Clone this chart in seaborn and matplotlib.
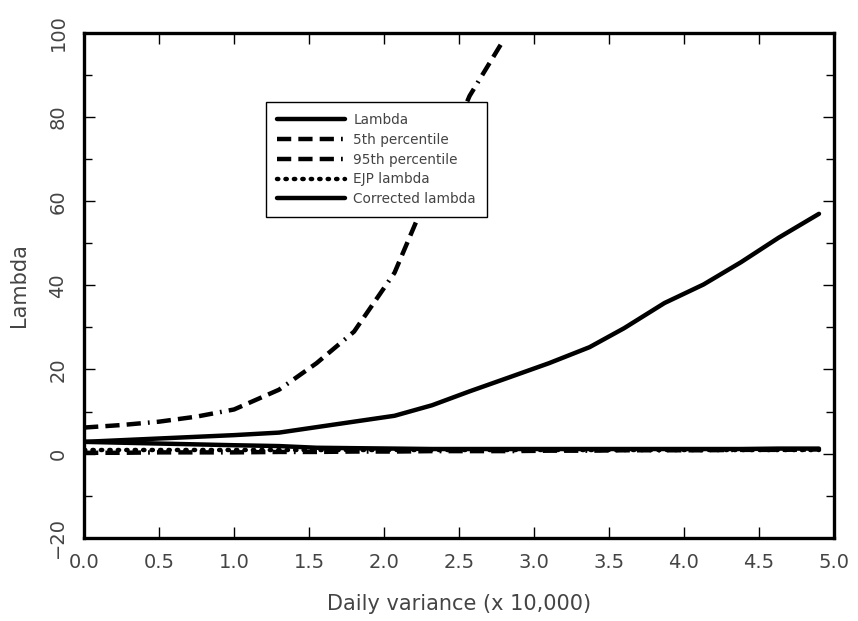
import numpy as np
import pandas as pd
import matplotlib
matplotlib.use("Agg")
import matplotlib.pyplot as plt
from matplotlib.ticker import MultipleLocator
import seaborn as sns

# values
x_var = [0.0, 0.25, 0.5, 0.75, 1.0, 1.3, 1.55, 1.8, 2.07, 2.32,
         2.57, 2.84, 3.1, 3.37, 3.6, 3.87, 4.13, 4.38, 4.63, 4.9]
lam = [2.8, 3.2, 3.6, 4.0, 4.4, 5.0, 6.3, 7.6, 9.0, 11.5,
       14.8, 18.2, 21.5, 25.3, 29.8, 35.8, 40.2, 45.5, 51.3, 57.0]
pct5 = [0.2, 0.2, 0.3, 0.3, 0.3, 0.4, 0.4, 0.5, 0.5, 0.6,
        0.6, 0.6, 0.7, 0.7, 0.8, 0.8, 0.8, 0.9, 0.9, 1.0]
x_p95 = [0.0, 0.25, 0.5, 0.75, 1.0, 1.3, 1.55, 1.8, 2.07, 2.32, 2.57, 2.8]
pct95 = [6.2, 6.8, 7.6, 8.8, 10.5, 15.2, 21.5, 29.0, 43.0, 64.0, 85.0, 98.5]
ejp = [0.9, 0.9, 0.9, 0.9, 0.9, 0.9, 0.9, 0.9, 0.9, 0.9,
       0.9, 0.9, 0.9, 0.9, 0.9, 0.9, 0.9, 0.9, 0.9, 0.9]
corr = [2.8, 2.6, 2.4, 2.2, 2.0, 1.8, 1.4, 1.3, 1.2, 1.1,
        1.1, 1.1, 1.1, 1.1, 1.1, 1.1, 1.1, 1.1, 1.2, 1.2]

sns.set_style("ticks")
plt.rcParams["font.family"] = ["DejaVu Sans"]

fig = plt.figure(figsize=(8.58, 6.21), dpi=100)
ax = fig.add_axes([0.098, 0.134, 0.874, 0.813])

dashdot = (0, (3.2, 1.6, 3.2, 1.6, 3.2, 1.6, 0.4, 1.6))
lw = 3.2
sns.lineplot(x=x_var, y=lam, ax=ax, color="black", lw=lw, label="Lambda")
sns.lineplot(x=x_var, y=pct5, ax=ax, color="black", lw=lw, label="5th percentile",
             linestyle=dashdot)
sns.lineplot(x=x_p95, y=pct95, ax=ax, color="black", lw=lw, label="95th percentile",
             linestyle=dashdot)
sns.lineplot(x=x_var, y=ejp, ax=ax, color="black", lw=lw, label="EJP lambda",
             linestyle=(0, (0.3, 1.6)), dash_capstyle="round")
sns.lineplot(x=x_var, y=corr, ax=ax, color="black", lw=lw, label="Corrected lambda")

ax.set_xlim(0, 5.0)
ax.set_ylim(-20, 100)
ax.xaxis.set_major_locator(MultipleLocator(0.5))
ax.yaxis.set_major_locator(MultipleLocator(20))
ax.yaxis.set_minor_locator(MultipleLocator(10))
ax.set_xticklabels([f"{v:.1f}" for v in ax.get_xticks()])

txt = "#444444"
ax.tick_params(axis="both", which="both", direction="in", top=True, right=True,
               colors="black", labelcolor=txt, labelsize=14, pad=11, width=1)
ax.tick_params(which="major", length=8)
ax.tick_params(which="minor", length=6)
ax.tick_params(axis="y", labelrotation=90, pad=12)
for lbl in ax.get_yticklabels():
    lbl.set_va("center")
for s in ax.spines.values():
    s.set_linewidth(2.4)
    s.set_color("black")

ax.set_xlabel("Daily variance (x 10,000)", fontsize=15, color=txt, labelpad=16)
ax.set_ylabel("Lambda", fontsize=15, color=txt, labelpad=14)

leg = ax.legend(loc="upper left", bbox_to_anchor=(0.234, 0.876), fontsize=9.8,
                frameon=True, fancybox=False, framealpha=1, handlelength=5.0,
                borderpad=0.8, labelspacing=0.42, handletextpad=0.6)
leg.get_frame().set_edgecolor("black")
leg.get_frame().set_linewidth(1.0)
leg.set_zorder(10)
for t in leg.get_texts():
    t.set_color(txt)

fig.savefig("out.png", dpi=100)
